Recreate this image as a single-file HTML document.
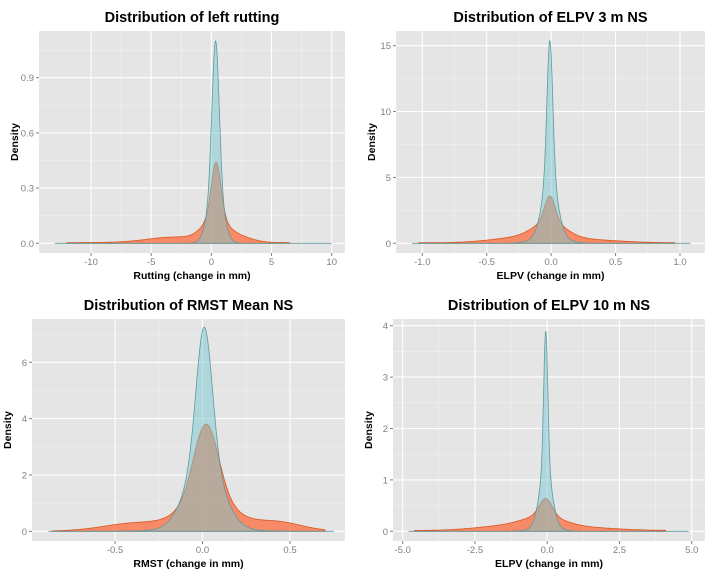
<!DOCTYPE html><html><head><style>body{margin:0;background:#fff}svg{display:block}</style></head><body>
<svg id="s" width="720" height="576" xmlns="http://www.w3.org/2000/svg" font-family="Liberation Sans, sans-serif"></svg>
<script>
const S=document.getElementById('s');let h='';
function g(x,m,s){return Math.exp(-(x-m)*(x-m)/(2*s*s));}
function panel(p){
 const {L,R,T,B,x0,x1,xv0,xv1,y0,y1,yv1}=p;
 const X=v=>x0+(v-xv0)*(x1-x0)/(xv1-xv0), Y=v=>y0+(v)*(y1-y0)/yv1;
 h+=`<rect x="${L}" y="${T}" width="${R-L}" height="${B-T}" fill="#e5e5e5"/>`;
 for(let i=0;i<p.xt.length-1;i++){const v=(p.xt[i]+p.xt[i+1])/2;h+=`<line x1="${X(v)}" x2="${X(v)}" y1="${T}" y2="${B}" stroke="#f2f2f2" stroke-width="0.6"/>`;}
 for(let i=0;i<p.yt.length;i++){const v=p.yt[i]+(p.yt[1]-p.yt[0])/2;if(Y(v)>T)h+=`<line x1="${L}" x2="${R}" y1="${Y(v)}" y2="${Y(v)}" stroke="#f2f2f2" stroke-width="0.6"/>`;}
 p.xt.forEach((v,i)=>{h+=`<line x1="${X(v)}" x2="${X(v)}" y1="${T}" y2="${B}" stroke="#fff" stroke-width="1.1"/><line x1="${X(v)}" x2="${X(v)}" y1="${B}" y2="${B+3}" stroke="#7f7f7f"/><text x="${X(v)}" y="${B+12}" font-size="9.5" fill="#7f7f7f" text-anchor="middle">${p.xl[i]}</text>`});
 p.yt.forEach((v,i)=>{h+=`<line x1="${L}" x2="${R}" y1="${Y(v)}" y2="${Y(v)}" stroke="#fff" stroke-width="1.1"/><line x1="${L-3}" x2="${L}" y1="${Y(v)}" y2="${Y(v)}" stroke="#7f7f7f"/><text x="${L-5}" y="${Y(v)+3.5}" font-size="9.5" fill="#7f7f7f" text-anchor="end">${p.yl[i]}</text>`});
 function path(f,a,b,fill,stroke){let d=`M${X(a)},${Y(0)}`;const n=600;for(let i=0;i<=n;i++){const v=a+(b-a)*i/n;d+=`L${X(v).toFixed(1)},${Y(f(v)).toFixed(1)}`;}d+=`L${X(b)},${Y(0)}Z`;h+=`<path d="${d}" fill="${fill}" stroke="${stroke}" stroke-width="0.8"/>`;}
 path(p.o,p.oa,p.ob,"rgba(255,100,50,0.7)","#d9541e");
 path(p.b,p.ba,p.bb,"rgba(120,200,210,0.5)","#5f9a9e");
 h+=`<text x="${(L+R)/2}" y="${T-9}" font-size="14.5" font-weight="bold" text-anchor="middle">${p.title}</text>`;
 h+=`<text x="${(L+R)/2}" y="${B+26}" font-size="10.5" font-weight="bold" text-anchor="middle">${p.xt_}</text>`;
 h+=`<text transform="translate(${L-21},${(T+B)/2}) rotate(-90)" font-size="10.5" font-weight="bold" text-anchor="middle">Density</text>`;
}
panel({L:39,R:345,T:31,B:253,x0:91,x1:331.7,xv0:-10,xv1:10,y0:243.3,y1:77.7,yv1:0.9,
 xt:[-10,-5,0,5,10],xl:['-10','-5','0','5','10'],yt:[0,0.3,0.6,0.9],yl:['0.0','0.3','0.6','0.9'],
 title:'Distribution of left rutting',xt_:'Rutting (change in mm)',
 b:x=>0.8*g(x,0.35,0.3)+0.3*g(x,0.35,0.6),ba:-13,bb:10,
 o:x=>0.3*g(x,0.4,0.4)+0.12*g(x,0.3,1.0)+0.03*g(x,-3,2.3)+0.03*g(x,2.3,1.1)+0.004,oa:-12,ob:6.5});
panel({L:396,R:705,T:31,B:253,x0:422.3,x1:680,xv0:-1,xv1:1,y0:243.3,y1:45.7,yv1:15,
 xt:[-1,-0.5,0,0.5,1],xl:['-1.0','-0.5','0.0','0.5','1.0'],yt:[0,5,10,15],yl:['0','5','10','15'],
 title:'Distribution of ELPV 3 m NS',xt_:'ELPV (change in mm)',
 b:x=>10*g(x,-0.01,0.022)+4.8*g(x,-0.01,0.055)+0.6*g(x,-0.01,0.11),ba:-1.08,bb:1.08,
 o:x=>1.9*g(x,-0.01,0.04)+1.2*g(x,-0.01,0.12)+0.45*g(x,-0.18,0.25)+0.2*g(x,0.3,0.25)+0.04,oa:-1.03,ob:0.96});
panel({L:32,R:345,T:319,B:541,x0:115,x1:290,xv0:-0.5,xv1:0.5,y0:531.3,y1:362.3,yv1:6,
 xt:[-0.5,0,0.5],xl:['-0.5','0.0','0.5'],yt:[0,2,4,6],yl:['0','2','4','6'],
 title:'Distribution of RMST Mean NS',xt_:'RMST (change in mm)',
 b:x=>4.6*g(x,0.01,0.045)+2.6*g(x,0.01,0.1)+0.05*g(x,0,0.25),ba:-0.88,bb:0.75,
 o:x=>2.6*g(x,0.02,0.07)+1.1*g(x,0.03,0.14)+0.25*g(x,-0.38,0.18)+0.3*g(x,0.42,0.14)+0.08*g(x,0,0.4),oa:-0.86,ob:0.7});
panel({L:393,R:705,T:319,B:541,x0:402.7,x1:691.7,xv0:-5,xv1:5,y0:531.3,y1:325.7,yv1:4,
 xt:[-5,-2.5,0,2.5,5],xl:['-5.0','-2.5','0.0','2.5','5.0'],yt:[0,1,2,3,4],yl:['0','1','2','3','4'],
 title:'Distribution of ELPV 10 m NS',xt_:'ELPV (change in mm)',
 b:x=>2.6*g(x,-0.05,0.07)+1.15*g(x,-0.05,0.2)+0.15*g(x,-0.05,0.38),ba:-4.8,bb:4.9,
 o:x=>0.33*g(x,-0.05,0.22)+0.18*g(x,-0.1,0.65)+0.1*g(x,-1.1,1.2)+0.06*g(x,1,1.3)+0.015,oa:-4.6,ob:4.1});
S.innerHTML=h;
</script></body></html>
